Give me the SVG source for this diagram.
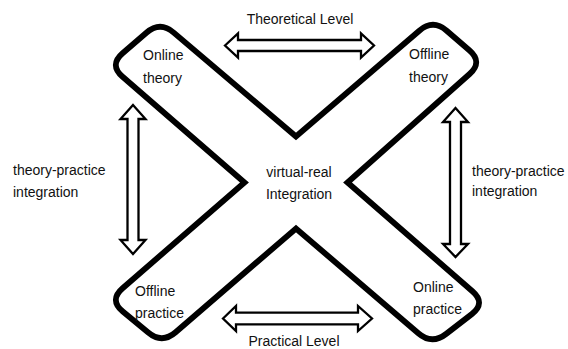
<svg xmlns="http://www.w3.org/2000/svg" width="568" height="349" viewBox="0 0 568 349">
<style>
.lbl{font-family:"Liberation Sans",Arial,sans-serif;font-size:14px;fill:#111}
.x{fill:#fff;stroke:#000;stroke-width:5.8;stroke-linejoin:miter;stroke-miterlimit:10}
.arr{fill:#fff;stroke:#000;stroke-width:2.3;stroke-linejoin:miter}
</style>
<rect width="568" height="349" fill="#fff"/>
<g id="x-shape">
<path class="x" d="M296,136.5 L173.7,32.6 Q160,21 146.4,32.8 L122.6,53.2 Q109,65 122.6,76.8 L244.5,182.5 L122.6,288.2 Q109,300 122.8,311.5 L148.2,332.5 Q162,344 175.6,332.2 L296,228.5 L418.3,333.3 Q432,345 446.2,333.9 L471.8,314.1 Q486,303 472.4,291.2 L347.5,182.5 L469.6,74.0 Q483,62 469.3,50.3 L446.7,30.7 Q433,19 419.3,30.7 Z"/>
</g>
<g id="connectors">
<path id="arrow-theoretical" class="arr" d="M225,45.5 L238,33.5 L238,40 L361,40 L361,33.5 L374,45.5 L361,57.5 L361,51 L238,51 L238,57.5 Z"/>
<path id="arrow-practical" class="arr" d="M223,318.5 L236,306 L236,312.7 L358,312.7 L358,306 L372,318.5 L358,331 L358,324.3 L236,324.3 L236,331 Z"/>
<path id="arrow-left" class="arr" d="M133,105 L145.5,119 L138.5,119 L138.5,240 L145.5,240 L133,254 L120.5,240 L127.5,240 L127.5,119 L120.5,119 Z"/>
<path id="arrow-right" class="arr" d="M455.5,108 L468,122 L461,122 L461,244 L468,244 L455.5,257 L443,244 L450,244 L450,122 L443,122 Z"/>
</g>
<g id="online-theory"><text class="lbl" x="143" y="60">Online</text><text class="lbl" x="143" y="83">theory</text></g>
<g id="offline-theory"><text class="lbl" x="409" y="59">Offline</text><text class="lbl" x="409" y="82">theory</text></g>
<g id="offline-practice"><text class="lbl" x="135" y="296">Offline</text><text class="lbl" x="135" y="318">practice</text></g>
<g id="online-practice"><text class="lbl" x="413" y="292">Online</text><text class="lbl" x="413" y="314">practice</text></g>
<g id="virtual-real"><text class="lbl" x="299" y="177" text-anchor="middle">virtual-real</text><text class="lbl" x="299" y="199" text-anchor="middle">Integration</text></g>
<g id="theoretical-level"><text class="lbl" x="300" y="24" text-anchor="middle">Theoretical Level</text></g>
<g id="practical-level"><text class="lbl" x="294" y="346" text-anchor="middle">Practical Level</text></g>
<g id="tp-left"><text class="lbl" x="13" y="175">theory-practice</text><text class="lbl" x="13" y="197">integration</text></g>
<g id="tp-right"><text class="lbl" x="472" y="176">theory-practice</text><text class="lbl" x="472" y="196">integration</text></g>
</svg>
